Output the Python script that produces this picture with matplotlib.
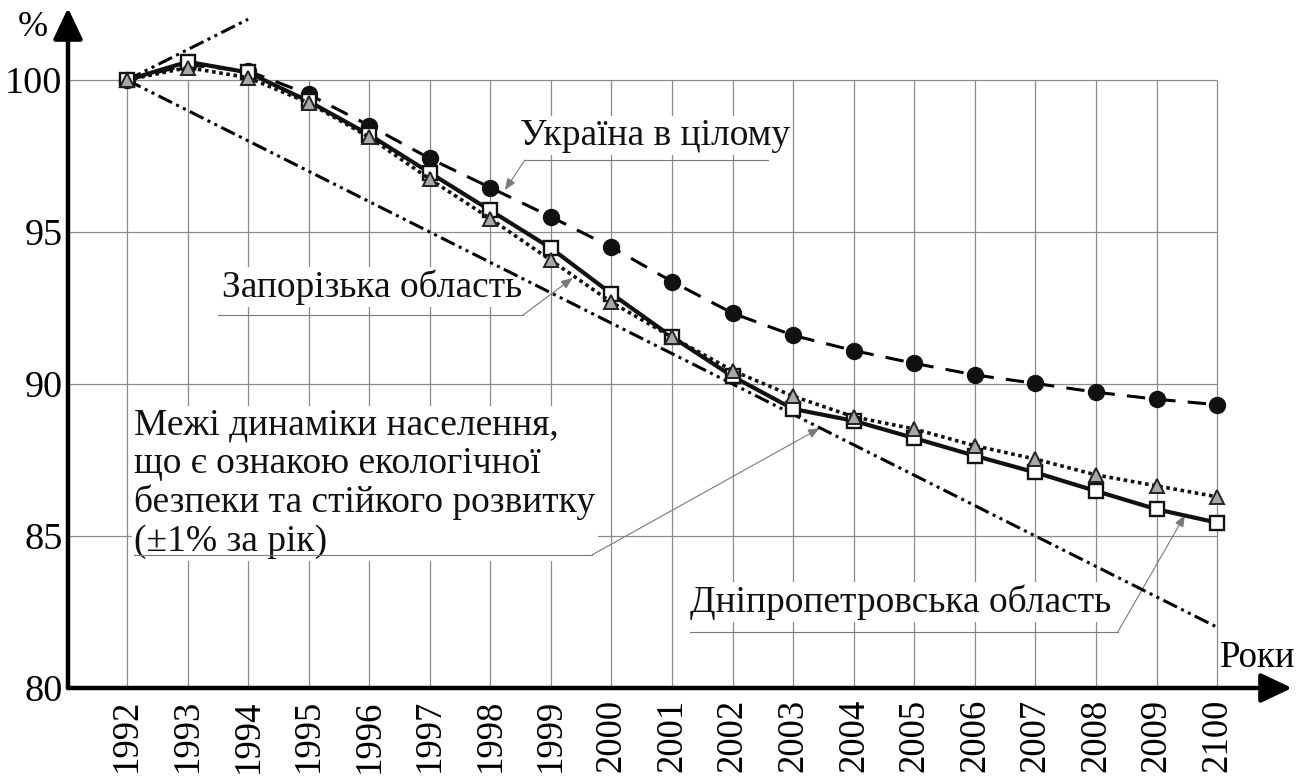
import numpy as np
import matplotlib
matplotlib.use("Agg")
import matplotlib.pyplot as plt

plt.rcParams['font.family'] = ['Liberation Serif', 'DejaVu Serif']

# ---------------------------------------------------------------
# Дані, % від рівня 1992 р.
roky = ['1992', '1993', '1994', '1995', '1996', '1997', '1998', '1999', '2000',
        '2001', '2002', '2003', '2004', '2005', '2006', '2007', '2008', '2009', '2100']
ukraina = [100, 100.5, 100.3, 99.53, 98.5, 97.42, 96.46, 95.5, 94.5, 93.37,
           92.33, 91.6, 91.1, 90.68, 90.3, 90.02, 89.73, 89.5, 89.32]
dnipro = [100, 100.6, 100.25, 99.3, 98.2, 96.95, 95.71, 94.47, 92.97, 91.55,
          90.25, 89.18, 88.79, 88.22, 87.64, 87.09, 86.48, 85.88, 85.44]
zaporizh = [100, 100.41, 100.08, 99.25, 98.12, 96.74, 95.44, 94.07, 92.69, 91.54,
            90.44, 89.6, 88.92, 88.52, 87.97, 87.53, 87.01, 86.65, 86.29]
# межі +-1% за рік
mezha_verh_x = [0, 2]
mezha_verh_y = [100, 102]
mezha_niz_x = [0, 18]
mezha_niz_y = [100, 82]
y_tiky = [80, 85, 90, 95, 100]

x = np.arange(len(roky))

# ---------------------------------------------------------------
fig = plt.figure(figsize=(13.05, 7.78), dpi=100)
ax = fig.add_axes([68 / 1305, 90 / 778, 1224 / 1305, 680 / 778])
ax.set_xlim(-0.974, 19.237)
ax.set_ylim(80, 102.37)

for s in ax.spines.values():
    s.set_visible(False)

# сітка
sirist = '#8a8a8a'
ax.hlines(y_tiky[1:], -0.974, x[-1], color=sirist, lw=0.9, zorder=0.5)
ax.vlines(x, 80, 100, color=sirist, lw=0.9, zorder=0.5)

# осі зі стрілками
strilka_osi = dict(arrowstyle='-|>,head_length=0.95,head_width=0.45',
                   mutation_scale=20, lw=3.2, color='k', shrinkA=0, shrinkB=0)
ax.annotate('', xy=(1, 0), xytext=(0, 0), xycoords='axes fraction',
            arrowprops=strilka_osi, zorder=6)
ax.annotate('', xy=(0, 1), xytext=(0, 0), xycoords='axes fraction',
            arrowprops=strilka_osi, zorder=6)

ax.set_xticks(x, roky, rotation=90, fontsize=26.5)
ax.set_yticks(y_tiky, [str(v) for v in y_tiky], fontsize=27.5)
ax.tick_params(axis='both', length=0)
ax.tick_params(axis='x', pad=8)
ax.tick_params(axis='y', pad=4)

ax.text(-1.55, 101.74, '%', fontsize=26, ha='center', va='center')
ax.text(18.05, 80.7, 'Роки', fontsize=26.5, ha='left', va='baseline')

# межі
ax.plot(mezha_verh_x, mezha_verh_y, color='k', lw=2.2,
        ls=(0, (5, 1.5, 1, 1.5, 1, 1.5)), zorder=3)
ax.plot(mezha_niz_x, mezha_niz_y, color='k', lw=2.2,
        ls=(0, (5, 1.5, 1, 1.5, 1, 1.5)), zorder=3)

# ряди
ax.plot(x, ukraina, color='k', lw=2.2, ls=(0, (6, 4)), marker='o', ms=11.5,
        mfc='#111111', mec='#111111', zorder=4)
ax.plot(x, dnipro, color='#111111', lw=3, ls='-', marker='s', ms=10,
        mfc='white', mec='#111111', mew=1.7, zorder=5)
ax.plot(x, zaporizh, color='#111111', lw=2.6, ls=(0, (1, 1)), marker='^', ms=10.5,
        mfc='#a8a8a8', mec='#222222', mew=1.4, zorder=6)

# підписи з виносками
vynoska = '#7a7a7a'
fon = dict(facecolor='white', edgecolor='none', pad=1.5)


def pidpys(tekst, tx, ty, linia, strilka, **kw):
    ax.text(tx, ty, tekst, fontsize=27, ha='left', va='baseline', bbox=fon,
            zorder=2, color='#111111', **kw)
    ax.plot(linia[0], linia[1], color=vynoska, lw=0.8, zorder=2.5)
    ax.annotate('', xy=strilka, xytext=(linia[0][-1], linia[1][-1]),
                arrowprops=dict(arrowstyle='-|>,head_length=0.5,head_width=0.2',
                                mutation_scale=14, lw=0.8, color=vynoska,
                                shrinkA=0, shrinkB=0), zorder=2.5)


pidpys('Україна в цілому', 6.49, 97.86,
       ([10.58, 6.57], [97.37, 97.37]), (6.24, 96.38))
pidpys('Запорізька область', 1.57, 92.86,
       ([1.50, 6.54], [92.27, 92.27]), (7.36, 93.49))
pidpys('Межі динаміки населення,\nщо є ознакою екологічної\n'
       'безпеки та стійкого розвитку\n(±1% за рік)', 0.12, 84.51,
       ([0.12, 7.68], [84.38, 84.38]), (11.44, 88.55), linespacing=1.15)
pidpys('Дніпропетровська область', 9.30, 82.5,
       ([9.30, 16.36], [81.84, 81.84]), (17.47, 85.69))

fig.savefig('out.png', dpi=100)
